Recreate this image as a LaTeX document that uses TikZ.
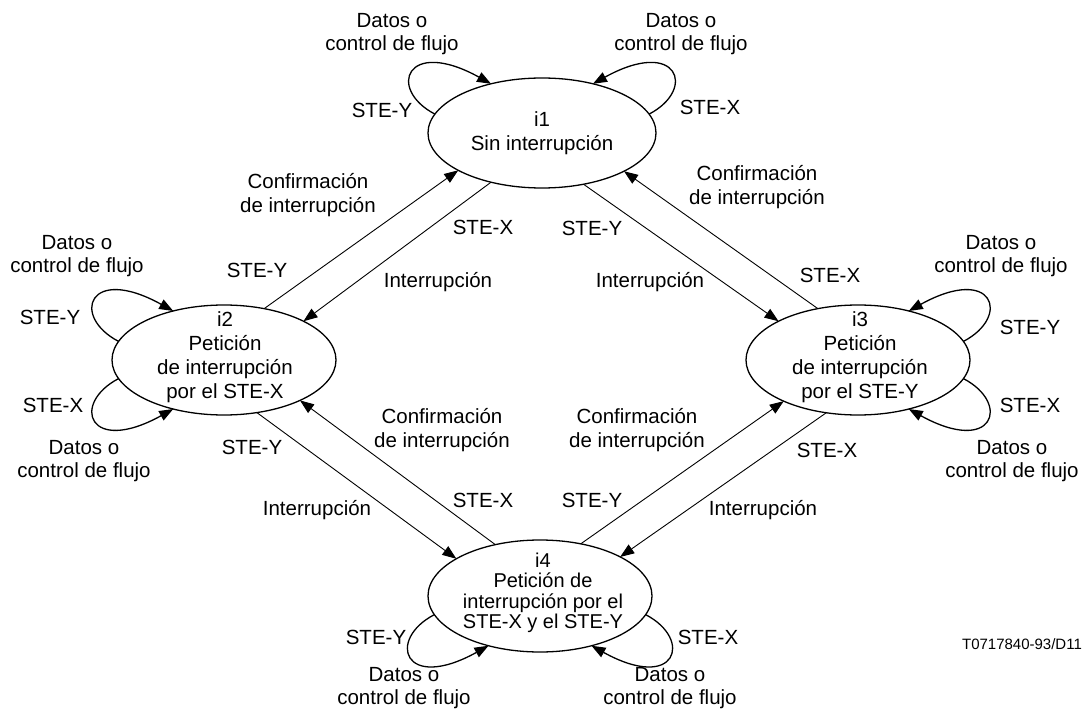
\documentclass[tikz,border=0pt]{standalone}
\usepackage{fontspec}
\setmainfont{Liberation Sans}
\usetikzlibrary{arrows.meta,shapes.geometric}
\begin{document}
\begin{tikzpicture}[x=1pt,y=-1pt,
  state/.style={draw, ellipse, line width=1.3pt, inner sep=0pt, outer sep=0pt, minimum width=224pt, minimum height=110pt},
  lbl/.style={font=\fontsize{20.5}{23.5}\selectfont, align=center, inner sep=0pt},
  stxt/.style={font=\fontsize{20.5}{24}\selectfont, align=center, inner sep=0pt},
  conn/.style={line width=0.9pt, -{Triangle[length=14pt,width=10.5pt]}},
  loopc/.style={line width=1.3pt, -{Triangle[length=14pt,width=10.5pt]}}]
\useasboundingbox (0,0) rectangle (1090,722);
% states
\node[state, minimum width=228pt] (i1) at (542,133) {};
\node[state] (i2) at (224,360) {};
\node[state] (i3) at (858,360) {};
\node[state, minimum height=112pt] (i4) at (540,596) {};
\node[stxt] (i1t) at (542,133) {i1\\Sin interrupción};
\node[stxt] (i2t) at (225,357) {i2\\Petición\\de interrupción\\por el STE-X};
\node[stxt] (i3t) at (860,357) {i3\\Petición\\de interrupción\\por el STE-Y};
\node[font=\fontsize{20}{20.5}\selectfont, align=center, inner sep=0pt] (i4t) at (543,593) {i4\\Petición de\\interrupción por el\\STE-X y el STE-Y};
% connectors between states
\draw[conn] (i2.52) -- (i1.-156.6);
\draw[conn] (i1.-136) -- (i2.26.6);
\draw[conn] (i1.-51.5) -- (i3.154.3);
\draw[conn] (i3.128) -- (i1.-25.2);
\draw[conn] (i2.-58.1) -- (i4.156.1);
\draw[conn] (i4.131.6) -- (i2.-28.3);
\draw[conn] (i4.52.5) -- (i3.-151.1);
\draw[conn] (i3.-121.9) -- (i4.26.3);
% self loops
\draw[loopc] (i1.170) .. controls +(-48,-25) and +(-85,-47) .. (i1.136);
\draw[loopc] (i1.10) .. controls +(48,-25) and +(85,-47) .. (i1.44);
\draw[loopc] (i2.170) .. controls +(-48,-25) and +(-85,-47) .. (i2.136);
\draw[loopc] (i2.190) .. controls +(-48,25) and +(-85,47) .. (i2.224);
\draw[loopc] (i3.10) .. controls +(48,-25) and +(85,-47) .. (i3.44);
\draw[loopc] (i3.-10) .. controls +(48,25) and +(85,47) .. (i3.-44);
\draw[loopc] (i4.190) .. controls +(-48,25) and +(-85,47) .. (i4.224);
\draw[loopc] (i4.-10) .. controls +(48,25) and +(85,47) .. (i4.-44);
% loop labels
\node[lbl] (a1) at (392,34) {Datos o\\control de flujo};
\node[lbl] (a2) at (382,110) {STE-Y};
\node[lbl] (a3) at (681,34) {Datos o\\control de flujo};
\node[lbl] (a4) at (710,107) {STE-X};
\node[lbl] (b1) at (77,256) {Datos o\\control de flujo};
\node[lbl] (b2) at (50,317) {STE-Y};
\node[lbl] (b3) at (53,405) {STE-X};
\node[lbl] (b4) at (84,461) {Datos o\\control de flujo};
\node[lbl] (c1) at (1001,256) {Datos o\\control de flujo};
\node[lbl] (c2) at (1030,327) {STE-Y};
\node[lbl] (c3) at (1030,405) {STE-X};
\node[lbl] (c4) at (1012,461) {Datos o\\control de flujo};
\node[lbl] (d1) at (376,637) {STE-Y};
\node[lbl] (d2) at (404,688) {Datos o\\control de flujo};
\node[lbl] (d3) at (708,637) {STE-X};
\node[lbl] (d4) at (670,688) {Datos o\\control de flujo};
% connector labels
\node[lbl] (e1) at (308,195) {Confirmación\\de interrupción};
\node[lbl] (e2) at (257,270) {STE-Y};
\node[lbl] (e3) at (483,227) {STE-X};
\node[lbl] (e4) at (438,282) {Interrupción};
\node[lbl] (f1) at (757,187) {Confirmación\\de interrupción};
\node[lbl] (f2) at (592,228) {STE-Y};
\node[lbl] (f3) at (650,282) {Interrupción};
\node[lbl] (f4) at (830,275) {STE-X};
\node[lbl] (g1) at (252,447) {STE-Y};
\node[lbl] (g2) at (442,430) {Confirmación\\de interrupción};
\node[lbl] (g3) at (483,500) {STE-X};
\node[lbl] (g4) at (317,510) {Interrupción};
\node[lbl] (h1) at (637,430) {Confirmación\\de interrupción};
\node[lbl] (h2) at (592,500) {STE-Y};
\node[lbl] (h3) at (827,450) {STE-X};
\node[lbl] (h4) at (763,510) {Interrupción};
\node[font=\fontsize{15}{18}\selectfont, inner sep=0pt] (ref) at (1022,644) {T0717840-93/D11};
\end{tikzpicture}
\end{document}
